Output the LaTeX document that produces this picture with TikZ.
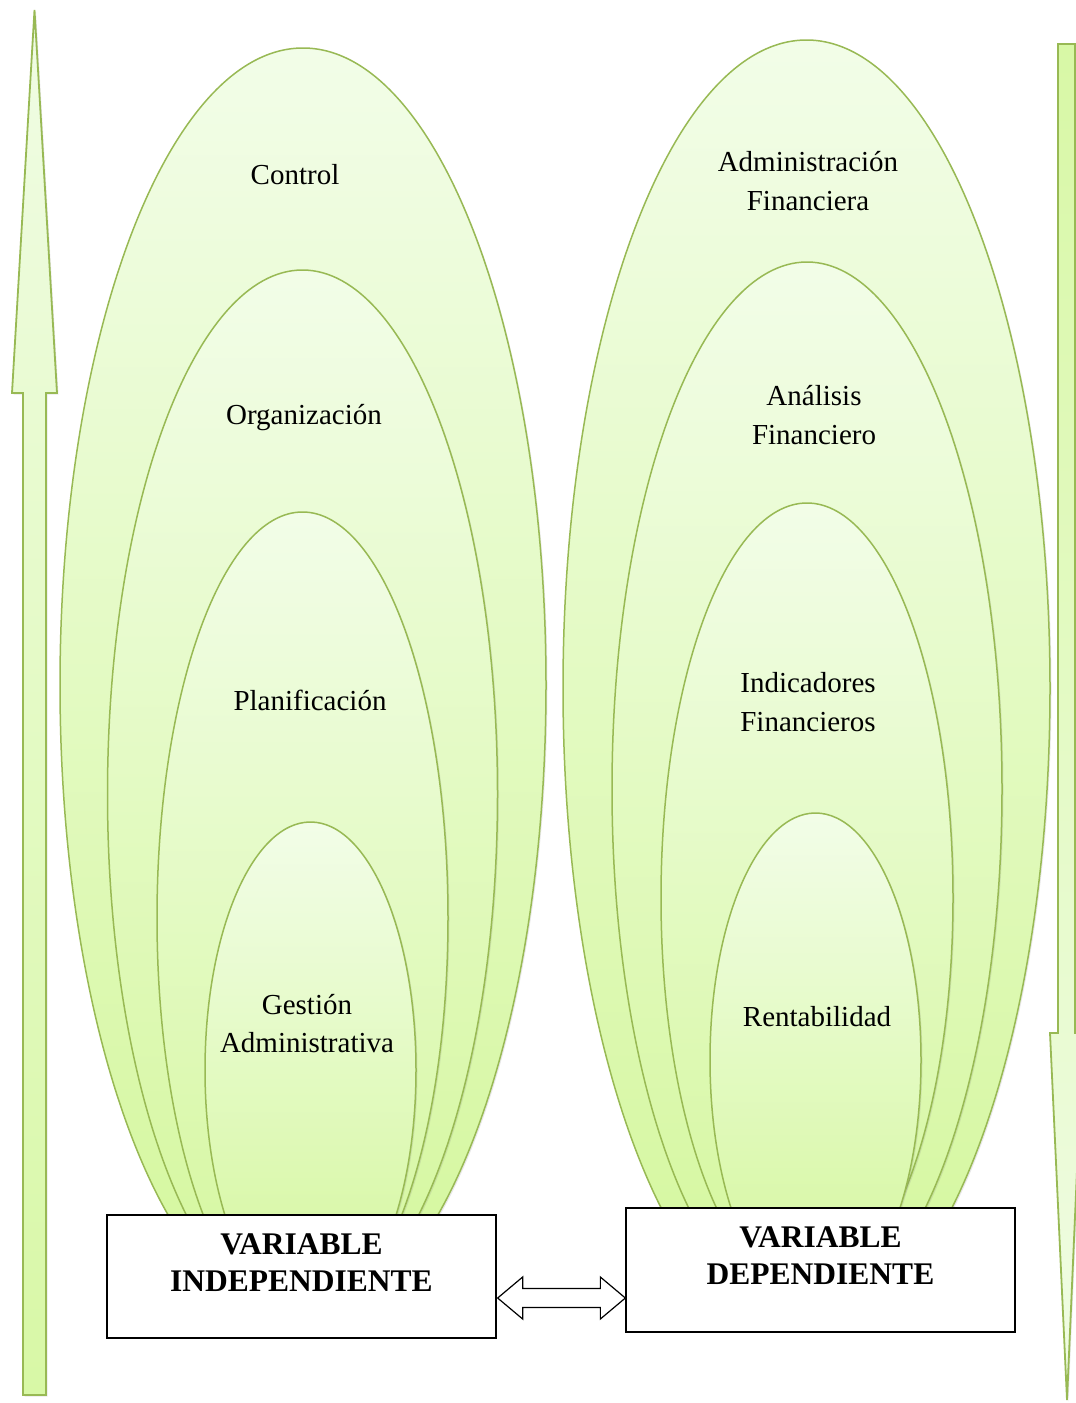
\documentclass[tikz,border=0pt]{standalone}
\usepackage{fontspec}
\setmainfont{Liberation Serif}
\usetikzlibrary{shadows,calc}
\definecolor{egline}{HTML}{98B954}
\definecolor{egtop}{HTML}{F2FDE8}
\definecolor{egbot}{HTML}{D4F79C}
\definecolor{arlight}{HTML}{F0FCE4}
\definecolor{argreen}{HTML}{D8F8A6}
\begin{document}
\begin{tikzpicture}[x=1pt,y=-1pt,
  egg/.style={draw=egline, line width=1.5pt, top color=egtop, bottom color=egbot,
    drop shadow={shadow xshift=1.5pt, shadow yshift=-1.5pt, opacity=0.18}},
  bigarrow/.style={draw=egline, line width=1.8pt, line join=miter,
    drop shadow={shadow xshift=1.5pt, shadow yshift=-1.5pt, opacity=0.18}},
  lbl/.style={font=\fontsize{29}{38.5}\selectfont, align=center, text=black, inner sep=0pt},
  vbox/.style={draw=black, line width=1.3pt, fill=white, minimum width=389pt, minimum height=123pt, inner sep=0pt},
  vtxt/.style={font=\fontsize{31.5}{37}\selectfont\bfseries, align=center, inner sep=0pt},
  dblarrow/.style={draw=black, line width=1.2pt, fill=white, line join=miter}]
\useasboundingbox (0,0) rectangle (1076,1403);
\clip (0,0) rectangle (1076,1403);

% left up arrow
\path[bigarrow, top color=arlight, bottom color=argreen]
  (34.5,10) -- (57,393) -- (46,393) -- (46,1395) -- (23,1395) -- (23,393) -- (12,393) -- cycle;
% right down arrow
\path[bigarrow, top color=argreen, bottom color=arlight]
  (1058,44) -- (1075,44) -- (1075,1033) -- (1083,1033) -- (1067,1400) -- (1050,1033) -- (1058,1033) -- cycle;

% left nested ellipses
\begin{scope}
  \clip (0,0) rectangle (556,1216);
  \path[egg] (303,685) ellipse [x radius=243, y radius=637];
  \path[egg] (302.5,794) ellipse [x radius=195, y radius=524];
  \path[egg] (302.5,918) ellipse [x radius=145.5, y radius=406];
  \path[egg] (310.5,1070) ellipse [x radius=105.5, y radius=248];
\end{scope}
% right nested ellipses
\begin{scope}
  \clip (556,0) rectangle (1054,1209);
  \path[egg] (806.5,688) ellipse [x radius=243.5, y radius=648];
  \path[egg] (807,789) ellipse [x radius=195, y radius=527];
  \path[egg] (807,898) ellipse [x radius=146, y radius=395];
  \path[egg] (815.5,1060) ellipse [x radius=105.5, y radius=247];
\end{scope}

% labels
\node[lbl] (t1) at (295,175) {Control};
\node[lbl] (t2) at (304,418) {Organización};
\node[lbl] (t3) at (310,700) {Planificación};
\node[lbl] (t4) at (307,1023.5) {Gestión\\Administrativa};
\node[lbl] (t5) at (808,181) {Administración\\Financiera};
\node[lbl] (t6) at (814,415) {Análisis\\Financiero};
\node[lbl] (t7) at (808,702) {Indicadores\\Financieros};
\node[lbl] (t8) at (817,1017) {Rentabilidad};

% variable boxes
\node[vbox] (L) at (301.5,1276.5) {};
\node[vbox, minimum height=124pt] (R) at (820.5,1270) {};
\node[vtxt] (Lt) at ($(L.center)+(0,-14)$) {VARIABLE\\INDEPENDIENTE};
\node[vtxt] (Rt) at ($(R.center)+(0,-14)$) {VARIABLE\\DEPENDIENTE};

% double arrow between boxes
\path (L.east) ++(1,21.5) coordinate (dl);
\path (R.west |- dl) coordinate (dr);
\draw[dblarrow] (dl) -- ++(25,-21) -- ++(0,11.5) -- ($(dr)+(-25,-9.5)$) -- ++(0,-11.5) -- (dr)
  -- ++(-25,21) -- ++(0,-11.5) -- ($(dl)+(25,9.5)$) -- ++(0,11.5) -- cycle;
\end{tikzpicture}
\end{document}
